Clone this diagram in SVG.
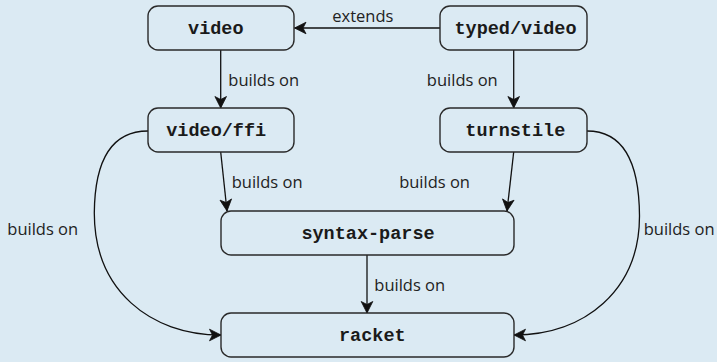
<svg xmlns="http://www.w3.org/2000/svg" width="717" height="362" viewBox="0 0 717 362">
<style>
.node rect{fill:#dbeaf3;stroke:#2a2a2a;stroke-width:1.4}
.node text{font-family:"Liberation Mono","Courier New",monospace;font-weight:bold;font-size:18.5px;fill:#1a1a1a;text-anchor:middle}
.edge{fill:none;stroke:#111;stroke-width:1.3}
.lbl{font-family:"Open Sans","Noto Sans",sans-serif;font-size:16.5px;fill:#222}
</style>
<defs>
<marker id="arr" markerUnits="userSpaceOnUse" orient="auto" markerWidth="14" markerHeight="14" refX="0" refY="0" overflow="visible">
<path d="M-11.5,-5.8 L0,0 L-11.5,5.8 L-8.5,0 Z" fill="#111" stroke="#111" stroke-width="0.8" stroke-linejoin="miter"/>
</marker>
</defs>
<rect width="717" height="362" fill="#dbeaf3"/>
<g id="connectors">
<path class="edge" d="M440,28 L294.5,28" marker-end="url(#arr)"/>
<path class="edge" d="M220.7,50 L220.7,108" marker-end="url(#arr)"/>
<path class="edge" d="M513.7,50 L513.7,108" marker-end="url(#arr)"/>
<path class="edge" d="M220.7,152 L227,211" marker-end="url(#arr)"/>
<path class="edge" d="M513.7,152 L507,211" marker-end="url(#arr)"/>
<path class="edge" d="M367,255 L367,313" marker-end="url(#arr)"/>
<path class="edge" d="M148,131 Q95,131 94.3,213 C94.3,290 150,335 221,335" marker-end="url(#arr)"/>
<path class="edge" d="M587,131 Q639,131 639.5,216 C639.5,290 585,335 514,335" marker-end="url(#arr)"/>
<text class="lbl" x="332.3" y="22">extends</text>
<text class="lbl" x="228.3" y="86">builds on</text>
<text class="lbl" x="497.7" y="86" text-anchor="end">builds on</text>
<text class="lbl" x="231.7" y="188">builds on</text>
<text class="lbl" x="470" y="188" text-anchor="end">builds on</text>
<text class="lbl" x="374.3" y="291">builds on</text>
<text class="lbl" x="7.3" y="235">builds on</text>
<text class="lbl" x="643.7" y="235">builds on</text>
</g>
<g id="video" class="node"><rect x="148" y="6" width="146" height="44" rx="10"/><text x="215.8" y="34">video</text></g>
<g id="typed-video" class="node"><rect x="440" y="6" width="147" height="44" rx="10"/><text x="515.5" y="34">typed/video</text></g>
<g id="video-ffi" class="node"><rect x="148" y="108" width="146" height="44" rx="10"/><text x="216.2" y="136">video/ffi</text></g>
<g id="turnstile" class="node"><rect x="440" y="108" width="147" height="44" rx="10"/><text x="515.3" y="136">turnstile</text></g>
<g id="syntax-parse" class="node"><rect x="221" y="211" width="293" height="44" rx="10"/><text x="368" y="239">syntax-parse</text></g>
<g id="racket" class="node"><rect x="221" y="313" width="293" height="44" rx="10"/><text x="372.3" y="341">racket</text></g>
</svg>
